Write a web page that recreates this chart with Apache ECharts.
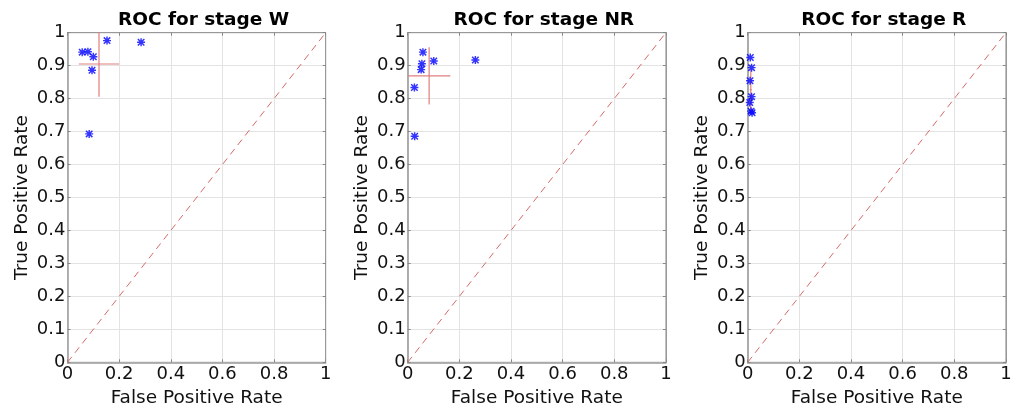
<!DOCTYPE html>
<html>
<head>
<meta charset="utf-8">
<script src="https://cdn.jsdelivr.net/npm/echarts@6/dist/echarts.min.js"></script>
<style>
html,body{margin:0;padding:0;background:#fff;}
#c{width:1016px;height:405px;}
</style>
</head>
<body>
<div id="c"></div>
<script>
// ---- data ----
const stageNames = ['W', 'NR', 'R'];
const fprW  = [0.153, 0.285, 0.057, 0.079, 0.100, 0.095, 0.084];
const tprW  = [0.976, 0.971, 0.941, 0.942, 0.927, 0.886, 0.693];
const fprNR = [0.059, 0.101, 0.262, 0.055, 0.052, 0.026, 0.027];
const tprNR = [0.941, 0.914, 0.917, 0.906, 0.888, 0.834, 0.686];
const fprR  = [0.010, 0.015, 0.009, 0.015, 0.008, 0.013, 0.017];
const tprR  = [0.925, 0.894, 0.854, 0.806, 0.788, 0.762, 0.757];
// mean +/- spread cross for each stage
const meanFpr = [0.122, 0.083, 0.012];
const meanTpr = [0.905, 0.869, 0.827];
const errFpr  = [0.078, 0.082, 0.004];
const errTpr  = [0.099, 0.087, 0.061];
const xTicks = [0, 0.2, 0.4, 0.6, 0.8, 1];
const yTicks = [0, 0.1, 0.2, 0.3, 0.4, 0.5, 0.6, 0.7, 0.8, 0.9, 1];
const diagonal = [[0, 0], [1, 1]];

const fprs = [fprW, fprNR, fprR];
const tprs = [tprW, tprNR, tprR];

const chart = echarts.init(document.getElementById('c'), null, {renderer: 'canvas'});
const font = 'DejaVu Sans';
const gridLefts = [67.5, 407.7, 747.7];
const gw = 258.2, gtop = 32.7, gh = 329.6;
const axisCol = '#999999';
const gridCol = '#e3e3e3';
const asterisk = 'path://M0 4.1L10 4.1L10 5.9L0 5.9Z M4.1 0L5.9 0L5.9 10L4.1 10Z M1.6 0.3L9.7 8.4L8.4 9.7L0.3 1.6Z M8.4 0.3L9.7 1.6L1.6 9.7L0.3 8.4Z';

const grids = [], xAxes = [], yAxes = [], series = [], titles = [];
for (let i = 0; i < 3; i++) {
  grids.push({left: gridLefts[i], top: gtop, width: gw, height: gh, containLabel: false,
    outerBoundsMode: 'none',
    show: true, borderColor: axisCol, borderWidth: 1, backgroundColor: 'transparent'});
  titles.push({text: 'ROC for stage ' + stageNames[i], left: gridLefts[i] + gw / 2 + 2, top: 6,
    textAlign: 'center',
    textStyle: {fontFamily: font, fontSize: 18.5, fontWeight: 'bold', color: '#000'}});
  const xi = xAxes.length;
  xAxes.push({gridIndex: i, type: 'value', min: 0, max: 1, interval: 0.2, position: 'bottom',
    name: 'False Positive Rate', nameLocation: 'middle', nameGap: 23,
    nameTextStyle: {fontFamily: font, fontSize: 18.5, color: '#111'},
    axisLine: {show: true, onZero: false, lineStyle: {color: axisCol, width: 1.5}},
    axisTick: {show: true, inside: true, length: 3, lineStyle: {color: '#888'}},
    axisLabel: {fontFamily: font, fontSize: 18, color: '#111', margin: 3,
      formatter: v => xTicks.includes(Math.round(v * 10) / 10) ? String(Math.round(v * 10) / 10) : ''},
    splitLine: {show: true, lineStyle: {color: gridCol, width: 1}}});
  xAxes.push({gridIndex: i, type: 'value', min: 0, max: 1, interval: 0.2, position: 'top',
    axisLine: {show: true, onZero: false, lineStyle: {color: axisCol, width: 1}},
    axisTick: {show: true, inside: true, length: 3, lineStyle: {color: '#888'}},
    axisLabel: {show: false}, splitLine: {show: false}});
  const yi = yAxes.length;
  yAxes.push({gridIndex: i, type: 'value', min: 0, max: 1, interval: 0.1, position: 'left',
    name: 'True Positive Rate', nameLocation: 'middle', nameGap: 36,
    nameTextStyle: {fontFamily: font, fontSize: 18.5, color: '#111'},
    axisLine: {show: true, onZero: false, lineStyle: {color: axisCol, width: 1.5}},
    axisTick: {show: true, inside: true, length: 3, lineStyle: {color: '#888'}},
    axisLabel: {fontFamily: font, fontSize: 18, color: '#111', margin: 2,
      formatter: v => yTicks.includes(Math.round(v * 10) / 10) ? String(Math.round(v * 10) / 10) : ''},
    splitLine: {show: true, lineStyle: {color: gridCol, width: 1}}});
  yAxes.push({gridIndex: i, type: 'value', min: 0, max: 1, interval: 0.1, position: 'right',
    axisLine: {show: true, onZero: false, lineStyle: {color: axisCol, width: 1}},
    axisTick: {show: true, inside: true, length: 3, lineStyle: {color: '#888'}},
    axisLabel: {show: false}, splitLine: {show: false}});

  series.push({type: 'line', xAxisIndex: xi, yAxisIndex: yi, data: diagonal, symbol: 'none',
    lineStyle: {color: '#d46a6a', width: 1, type: [7, 5]}, silent: true, z: 2});
  series.push({type: 'line', xAxisIndex: xi, yAxisIndex: yi, symbol: 'none', silent: true, z: 3,
    data: [[meanFpr[i] - errFpr[i], meanTpr[i]], [meanFpr[i] + errFpr[i], meanTpr[i]]],
    lineStyle: {color: '#e07f7f', width: 1.2}});
  series.push({type: 'line', xAxisIndex: xi, yAxisIndex: yi, symbol: 'none', silent: true, z: 3,
    data: [[meanFpr[i], meanTpr[i] - errTpr[i]], [meanFpr[i], meanTpr[i] + errTpr[i]]],
    lineStyle: {color: '#e07f7f', width: 1.2}});
  series.push({type: 'scatter', xAxisIndex: xi, yAxisIndex: yi, z: 4,
    data: fprs[i].map((x, k) => [x, tprs[i][k]]),
    symbol: asterisk, symbolSize: 8, itemStyle: {color: '#0000ff'}});
}

chart.setOption({
  animation: false,
  backgroundColor: '#ffffff',
  title: titles,
  grid: grids,
  xAxis: xAxes,
  yAxis: yAxes,
  series: series
});
</script>
</body>
</html>
